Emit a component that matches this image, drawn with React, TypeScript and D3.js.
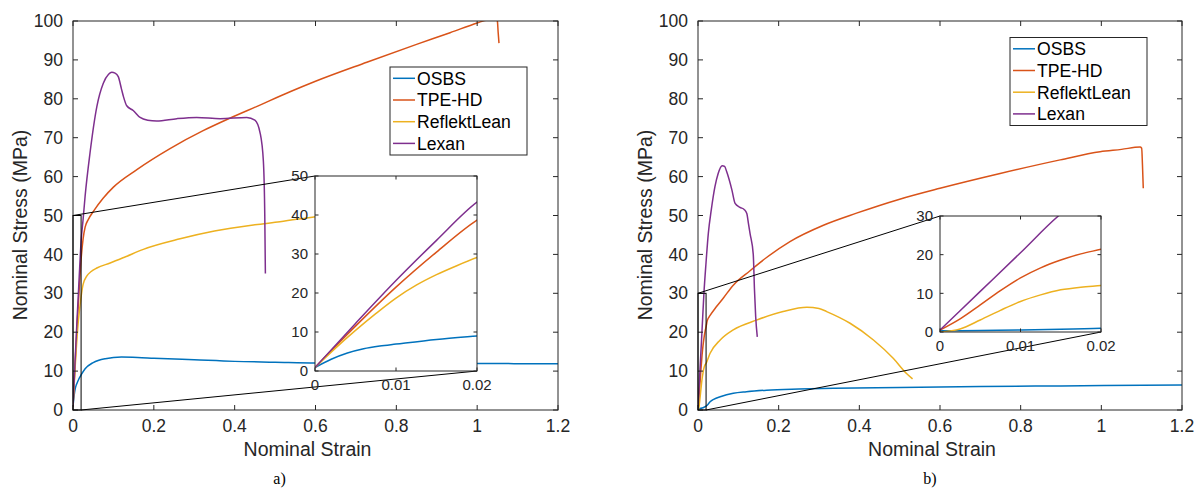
import React from "react";
import * as d3 from "d3";

type Pt = [number, number];

const seriesNames = ["OSBS", "TPE-HD", "ReflektLean", "Lexan"];
const seriesColors = ["#0072BD", "#D95319", "#EDB120", "#7E2F8E"];

const xTicks = [0, 0.2, 0.4, 0.6, 0.8, 1, 1.2];
const yTicks = [0, 10, 20, 30, 40, 50, 60, 70, 80, 90, 100];
const insetXTicks = [0, 0.01, 0.02];
const insetYTicksA = [0, 10, 20, 30, 40, 50];
const insetYTicksB = [0, 10, 20, 30];

// Panel a) [strain, stress MPa]
const aOSBS: Pt[] = [
  [0, 0.9], [0.002, 3.0], [0.004, 4.6], [0.006, 5.7], [0.008, 6.4], [0.01, 6.9],
  [0.015, 8.1], [0.02, 9.0], [0.03, 10.6], [0.05, 12.2], [0.08, 13.2], [0.12, 13.6],
  [0.16, 13.5], [0.2, 13.3], [0.3, 12.9], [0.4, 12.5], [0.5, 12.3], [0.6, 12.1],
  [0.8, 12.0], [1.0, 11.95], [1.2, 11.9], [1.25, 11.9],
];
const aTPE: Pt[] = [
  [0, 0.9], [0.005, 11.5], [0.01, 21.5], [0.015, 30.5], [0.02, 38.7], [0.025, 44],
  [0.03, 47], [0.038, 49], [0.05, 51], [0.075, 54.5], [0.1, 57.3], [0.158, 61.8],
  [0.24, 67.2], [0.322, 71.8], [0.388, 75], [0.454, 78], [0.537, 81.8], [0.6, 84.5],
  [0.727, 89.4], [0.85, 94], [0.933, 97], [1.0, 99.5], [1.027, 100.4], [1.045, 101],
  [1.05, 100], [1.052, 97], [1.054, 94.3],
];
const aReflekt: Pt[] = [
  [0, 0.9], [0.0025, 5.8], [0.005, 10.4], [0.0075, 14.7], [0.01, 18.7], [0.0125, 22],
  [0.015, 24.7], [0.0175, 27], [0.02, 29.1], [0.025, 32.3], [0.034, 34.4], [0.045, 35.6],
  [0.059, 36.5], [0.092, 37.8], [0.13, 39.4], [0.174, 41.3], [0.265, 44], [0.35, 46],
  [0.45, 47.6], [0.512, 48.4], [0.6, 49.7], [0.7, 51],
];
const aLexan: Pt[] = [
  [0, 0.9], [0.005, 12.2], [0.01, 23.2], [0.015, 33.5], [0.02, 43.3], [0.025, 49],
  [0.03, 55], [0.042, 66], [0.059, 78], [0.075, 84], [0.088, 86.3], [0.096, 86.8],
  [0.104, 86.6], [0.112, 85.7], [0.12, 82.5], [0.125, 80.5], [0.133, 78.2], [0.149, 77],
  [0.166, 75.2], [0.185, 74.5], [0.207, 74.3], [0.257, 74.9], [0.306, 75.2], [0.364, 74.9],
  [0.43, 75.2], [0.45, 74.5], [0.463, 71.2], [0.471, 64], [0.4745, 50], [0.476, 35.1],
];

// Panel b)
const bOSBS: Pt[] = [
  [0, 0.3], [0.005, 0.4], [0.01, 0.5], [0.015, 0.7], [0.02, 1.0], [0.025, 1.5],
  [0.03, 2.1], [0.04, 2.8], [0.055, 3.4], [0.0875, 4.3], [0.12, 4.7], [0.17, 5.1],
  [0.25, 5.4], [0.336, 5.6], [0.5, 5.8], [0.7, 6.05], [0.9, 6.2], [1.2, 6.4], [1.25, 6.4],
];
const bTPE: Pt[] = [
  [0, 0.5], [0.0025, 3.4], [0.005, 7.0], [0.0075, 10.7], [0.01, 14.0], [0.0125, 16.6],
  [0.015, 18.6], [0.0175, 20.2], [0.02, 21.4], [0.023, 23],
  [0.03, 24.3], [0.046, 26.6], [0.063, 28.8], [0.0875, 32.1], [0.129, 35.8], [0.17, 39.2],
  [0.228, 43.3], [0.311, 47.5], [0.393, 50.6], [0.5, 54.2], [0.6, 57], [0.749, 60.8],
  [0.898, 64.3], [0.997, 66.4], [1.05, 67], [1.096, 67.6], [1.1, 67.3], [1.102, 63],
  [1.104, 57],
];
const bReflekt: Pt[] = [
  [0, 0], [0.0025, 0.8], [0.005, 3.1], [0.0075, 5.6], [0.01, 7.9], [0.0125, 9.6],
  [0.015, 10.9], [0.0175, 11.6], [0.02, 12.0], [0.03, 14.6], [0.055, 18], [0.0875, 20.6],
  [0.145, 23.1], [0.211, 25.3], [0.27, 26.4], [0.3, 26.1], [0.319, 25.3], [0.377, 22.3],
  [0.435, 18], [0.484, 13.3], [0.517, 9.4], [0.532, 8.0],
];
const bLexan: Pt[] = [
  [0, 0.5], [0.005, 10.5], [0.01, 20.5], [0.0147, 30], [0.02, 38], [0.0256, 45.4],
  [0.033, 51.5], [0.042, 57.4], [0.05, 60.8], [0.06, 62.8], [0.066, 62.6], [0.071, 61.3],
  [0.084, 56.6], [0.092, 53.1], [0.104, 52.1], [0.115, 51.5], [0.121, 50.5], [0.125, 48],
  [0.129, 45.4], [0.137, 40], [0.14, 31], [0.143, 24], [0.147, 18.8],
];

type Box = { left: number; top: number; right: number; bottom: number };
type PanelDef = {
  id: string;
  caption: string;
  captionX: number;
  series: Pt[][];
  box: Box;
  inset: Box;
  insetYMax: number;
  insetYTicks: number[];
  legend: { left: number; top: number };
};

const panels: PanelDef[] = [
  {
    id: "a",
    caption: "a)",
    captionX: 279.5,
    series: [aOSBS, aTPE, aReflekt, aLexan],
    box: { left: 73, top: 21, right: 558, bottom: 410 },
    inset: { left: 315, top: 176, right: 477, bottom: 371 },
    insetYMax: 50,
    insetYTicks: insetYTicksA,
    legend: { left: 390, top: 67 },
  },
  {
    id: "b",
    caption: "b)",
    captionX: 930,
    series: [bOSBS, bTPE, bReflekt, bLexan],
    box: { left: 698, top: 21, right: 1182, bottom: 410 },
    inset: { left: 940, top: 216, right: 1101, bottom: 332 },
    insetYMax: 30,
    insetYTicks: insetYTicksB,
    legend: { left: 1010, top: 37.5 },
  },
];

const FONT = "'Liberation Sans', Arial, Helvetica, sans-serif";
const AX = "#262626";

function Panel({ p }: { p: PanelDef }) {
  const { box, inset } = p;
  const x = d3.scaleLinear().domain([0, 1.2]).range([box.left, box.right]);
  const y = d3.scaleLinear().domain([0, 100]).range([box.bottom, box.top]);
  const ix = d3.scaleLinear().domain([0, 0.02]).range([inset.left, inset.right]);
  const iy = d3.scaleLinear().domain([0, p.insetYMax]).range([inset.bottom, inset.top]);

  const mainLine = d3
    .line<Pt>()
    .x((d) => x(d[0]))
    .y((d) => y(d[1]))
    .curve(d3.curveMonotoneX);
  const insetLine = d3
    .line<Pt>()
    .x((d) => ix(d[0]))
    .y((d) => iy(d[1]))
    .curve(d3.curveMonotoneX);

  const tl = 5;
  const itl = 3.5;
  const cx = (box.left + box.right) / 2;
  const cy = (box.top + box.bottom) / 2;

  const zx0 = x(0), zx1 = x(0.02), zy0 = y(0), zy1 = y(p.insetYMax);

  return (
    <g>
      <defs>
        <clipPath id={`clipm-${p.id}`}>
          <rect x={box.left} y={box.top} width={box.right - box.left} height={box.bottom - box.top} />
        </clipPath>
        <clipPath id={`clipi-${p.id}`}>
          <rect x={inset.left} y={inset.top} width={inset.right - inset.left} height={inset.bottom - inset.top} />
        </clipPath>
      </defs>

      <g clipPath={`url(#clipm-${p.id})`}>
        {p.series.map((s, i) => (
          <path key={i} d={mainLine(s) || ""} fill="none" stroke={seriesColors[i]} strokeWidth={1.5} strokeLinejoin="round" />
        ))}
      </g>

      <rect x={box.left} y={box.top} width={box.right - box.left} height={box.bottom - box.top} fill="none" stroke={AX} strokeWidth={1} />
      {xTicks.map((t) => (
        <g key={`xt${t}`}>
          <line x1={x(t)} x2={x(t)} y1={box.bottom} y2={box.bottom - tl} stroke={AX} />
          <line x1={x(t)} x2={x(t)} y1={box.top} y2={box.top + tl} stroke={AX} />
          <text x={x(t)} y={box.bottom + 22} textAnchor="middle" fontSize={17.5} fill={AX} fontFamily={FONT}>
            {String(t)}
          </text>
        </g>
      ))}
      {yTicks.map((t) => (
        <g key={`yt${t}`}>
          <line x1={box.left} x2={box.left + tl} y1={y(t)} y2={y(t)} stroke={AX} />
          <line x1={box.right} x2={box.right - tl} y1={y(t)} y2={y(t)} stroke={AX} />
          <text x={box.left - 10} y={y(t)} dy="0.35em" textAnchor="end" fontSize={17.5} fill={AX} fontFamily={FONT}>
            {String(t)}
          </text>
        </g>
      ))}
      <text x={cx - 8} y={456} textAnchor="middle" fontSize={19.5} fill={AX} fontFamily={FONT}>
        Nominal Strain
      </text>
      <text
        transform={`translate(${box.left - 46},${cy + 9.5}) rotate(-90)`}
        textAnchor="middle"
        fontSize={19.5}
        fill={AX}
        fontFamily={FONT}
      >
        Nominal Stress (MPa)
      </text>

      <rect x={zx0} y={zy1} width={zx1 - zx0} height={zy0 - zy1} fill="none" stroke="#000" strokeWidth={1} />
      <line x1={zx0} y1={zy1} x2={inset.left} y2={inset.top} stroke="#000" strokeWidth={1} />
      <line x1={zx1} y1={zy0} x2={inset.right} y2={inset.bottom} stroke="#000" strokeWidth={1} />

      <rect x={inset.left} y={inset.top} width={inset.right - inset.left} height={inset.bottom - inset.top} fill="#fff" />
      <g clipPath={`url(#clipi-${p.id})`}>
        {p.series.map((s, i) => (
          <path key={i} d={insetLine(s) || ""} fill="none" stroke={seriesColors[i]} strokeWidth={1.5} strokeLinejoin="round" />
        ))}
      </g>
      <rect x={inset.left} y={inset.top} width={inset.right - inset.left} height={inset.bottom - inset.top} fill="none" stroke={AX} strokeWidth={1} />
      {insetXTicks.map((t) => (
        <g key={`ixt${t}`}>
          <line x1={ix(t)} x2={ix(t)} y1={inset.bottom} y2={inset.bottom - itl} stroke={AX} />
          <line x1={ix(t)} x2={ix(t)} y1={inset.top} y2={inset.top + itl} stroke={AX} />
          <text x={ix(t)} y={inset.bottom + 19} textAnchor="middle" fontSize={15} fill={AX} fontFamily={FONT}>
            {String(t)}
          </text>
        </g>
      ))}
      {p.insetYTicks.map((t) => (
        <g key={`iyt${t}`}>
          <line x1={inset.left} x2={inset.left + itl} y1={iy(t)} y2={iy(t)} stroke={AX} />
          <line x1={inset.right} x2={inset.right - itl} y1={iy(t)} y2={iy(t)} stroke={AX} />
          <text x={inset.left - 7} y={iy(t)} dy="0.35em" textAnchor="end" fontSize={15} fill={AX} fontFamily={FONT}>
            {String(t)}
          </text>
        </g>
      ))}

      <g transform={`translate(${p.legend.left},${p.legend.top})`}>
        <rect x={0} y={0} width={137} height={88} fill="#fff" stroke={AX} strokeWidth={1} />
        {seriesNames.map((n, i) => {
          const ry = 11.3 + i * 21.7;
          return (
            <g key={n}>
              <line x1={3} x2={25} y1={ry} y2={ry} stroke={seriesColors[i]} strokeWidth={1.5} />
              <text x={27} y={ry} dy="0.36em" fontSize={17.6} fill="#000" fontFamily={FONT}>
                {n}
              </text>
            </g>
          );
        })}
      </g>

      <text x={p.captionX} y={484} textAnchor="middle" fontSize={16} fill="#000" fontFamily="'Liberation Serif', 'Times New Roman', serif">
        {p.caption}
      </text>
    </g>
  );
}

export default function App() {
  return (
    <svg
      width={1200}
      height={494}
      viewBox="0 0 1200 494"
      style={{ position: "absolute", left: 0, top: 0, background: "#fff" }}
    >
      <rect x={0} y={0} width={1200} height={494} fill="#fff" />
      {panels.map((p) => (
        <Panel key={p.id} p={p} />
      ))}
    </svg>
  );
}
